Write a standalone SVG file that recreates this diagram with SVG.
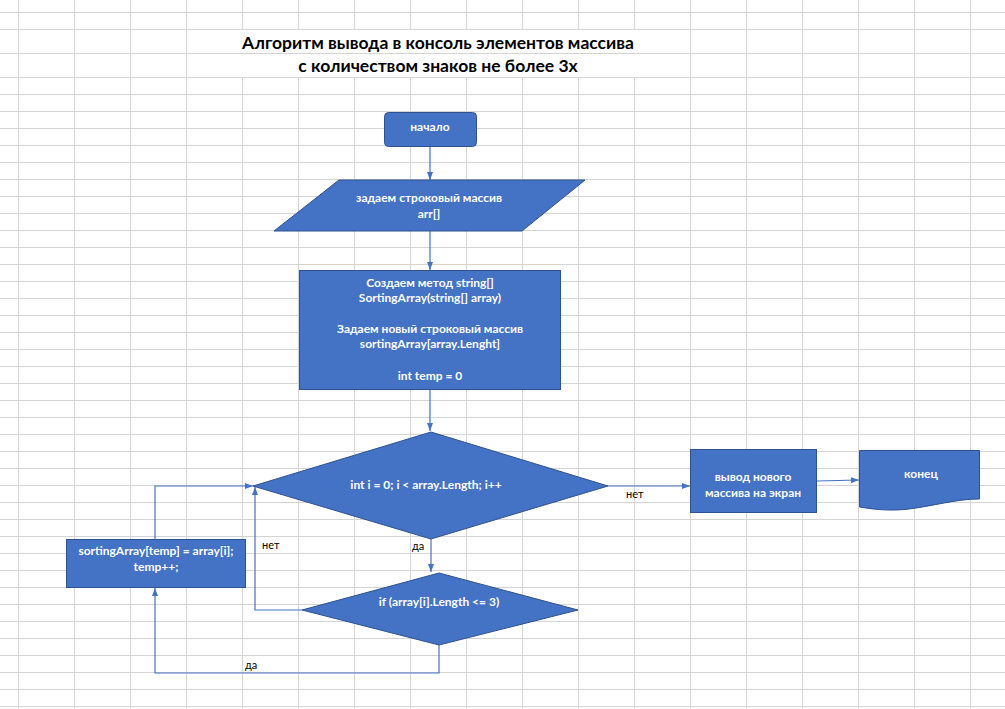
<svg xmlns="http://www.w3.org/2000/svg" width="1005" height="709" viewBox="0 0 1005 709">
  <style>
    .grid { stroke: #d4d4d4; stroke-width: 1; fill: none; }
    .shape { fill: #4472C4; stroke: #2F528F; stroke-width: 1; }
    .lbl { font-family: "Lato", "Liberation Sans", sans-serif; font-weight: bold; font-size: 12px; fill: #ffffff; text-anchor: middle; }
    .title { font-family: "Lato", "Liberation Sans", sans-serif; font-weight: bold; font-size: 17.5px; fill: #000000; text-anchor: middle; }
    .edge { stroke: #4472C4; stroke-width: 1.2; fill: none; }
    .elbl { font-family: "Lato", "Liberation Sans", sans-serif; font-size: 11px; fill: #000000; }
  </style>
  <defs>
    <marker id="arrow" viewBox="0 0 8 6" refX="8" refY="3" markerWidth="8" markerHeight="6" markerUnits="userSpaceOnUse" orient="auto">
      <path d="M0,0 L8,3 L0,6 z" fill="#4472C4"/>
    </marker>
  </defs>

  <rect width="1005" height="709" fill="#ffffff"/>

  <!-- spreadsheet grid -->
  <g id="grid" class="grid">
    <path d="M0,12.5H1005M0,29.5H1005M0,53.5H1005M0,77.5H1005
             M0,94.5H1005M0,111.5H1005M0,128.5H1005M0,145.5H1005M0,162.5H1005M0,179.5H1005
             M0,196.5H1005M0,213.5H1005M0,230.5H1005M0,247.5H1005M0,264.5H1005M0,281.5H1005
             M0,298.5H1005M0,315.5H1005M0,332.5H1005M0,349.5H1005M0,366.5H1005M0,383.5H1005
             M0,400.5H1005M0,417.5H1005M0,434.5H1005M0,451.5H1005M0,468.5H1005M0,485.5H1005
             M0,502.5H1005M0,519.5H1005M0,536.5H1005M0,553.5H1005M0,570.5H1005M0,587.5H1005
             M0,604.5H1005M0,621.5H1005M0,638.5H1005M0,655.5H1005M0,672.5H1005M0,689.5H1005
             M0,706.5H1005"/>
    <path d="M18.5,0V709M74.5,0V709M130.5,0V709M186.5,0V709M690.5,0V709M746.5,0V709
             M802.5,0V709M858.5,0V709M914.5,0V709M970.5,0V709
             M242.5,0V29M242.5,77V709M298.5,0V29M298.5,77V709M354.5,0V29M354.5,77V709
             M410.5,0V29M410.5,77V709M466.5,0V29M466.5,77V709M522.5,0V29M522.5,77V709
             M578.5,0V29M578.5,77V709M634.5,0V29M634.5,77V709"/>
  </g>

  <!-- heading -->
  <g id="title">
    <text class="title" x="438" y="49">Алгоритм вывода в консоль элементов массива</text>
    <text class="title" x="438" y="72">с количеством знаков не более 3х</text>
  </g>

  <!-- connectors -->
  <g id="connectors">
    <path class="edge" d="M430,147V180" marker-end="url(#arrow)"/>
    <path class="edge" d="M430,231V270" marker-end="url(#arrow)"/>
    <path class="edge" d="M430,389V431" marker-end="url(#arrow)"/>
    <path class="edge" d="M608,486H690" marker-end="url(#arrow)"/>
    <path class="edge" d="M817,481L859,480" marker-end="url(#arrow)"/>
    <path class="edge" d="M431,539V572" marker-end="url(#arrow)"/>
    <path class="edge" d="M302,610H255V487" marker-end="url(#arrow)"/>
    <path class="edge" d="M155,539V486H253" marker-end="url(#arrow)"/>
    <path class="edge" d="M439,645V673H155V588" marker-end="url(#arrow)"/>
    <text class="elbl" x="626" y="498">нет</text>
    <text class="elbl" x="412" y="550">да</text>
    <text class="elbl" x="262" y="549">нет</text>
    <text class="elbl" x="245" y="669">да</text>
  </g>

  <g id="start">
    <rect class="shape" x="384.5" y="112.5" width="92" height="34" rx="4"/>
    <text class="lbl" x="430" y="131">начало</text>
  </g>

  <g id="input-array">
    <polygon class="shape" points="339,180 585,180 522,231 274,231"/>
    <text class="lbl" x="429" y="202">задаем строковый массив</text>
    <text class="lbl" x="429" y="218">arr[]</text>
  </g>

  <g id="create-method">
    <rect class="shape" x="299.5" y="270.5" width="261" height="119"/>
    <text class="lbl" x="430" y="287">Создаем метод string[]</text>
    <text class="lbl" x="430" y="302">SortingArray(string[] array)</text>
    <text class="lbl" x="430" y="333">Задаем новый строковый массив</text>
    <text class="lbl" x="430" y="348">sortingArray[array.Lenght]</text>
    <text class="lbl" x="430" y="380">int temp = 0</text>
  </g>

  <g id="loop">
    <polygon class="shape" points="431,432 608,486 431,539 253,486"/>
    <text class="lbl" x="426" y="489">int i = 0; i &lt; array.Length; i++</text>
  </g>

  <g id="check-length">
    <polygon class="shape" points="439,573 578,610 439,645 302,610"/>
    <text class="lbl" x="439" y="606">if (array[i].Length &lt;= 3)</text>
  </g>

  <g id="store-element">
    <rect class="shape" x="66.5" y="539.5" width="179" height="48"/>
    <text class="lbl" x="156" y="555">sortingArray[temp] = array[i];</text>
    <text class="lbl" x="156" y="571">temp++;</text>
  </g>

  <g id="output">
    <rect class="shape" x="690.5" y="449.5" width="126" height="63"/>
    <text class="lbl" x="753" y="481">вывод нового</text>
    <text class="lbl" x="753" y="497">массива на экран</text>
  </g>

  <g id="end">
    <path class="shape" d="M859.5,450.5H979.5V499C955,499 935,506 905,509.5C885,511 872,509 859.5,507Z"/>
    <text class="lbl" x="921" y="478">конец</text>
  </g>
</svg>
